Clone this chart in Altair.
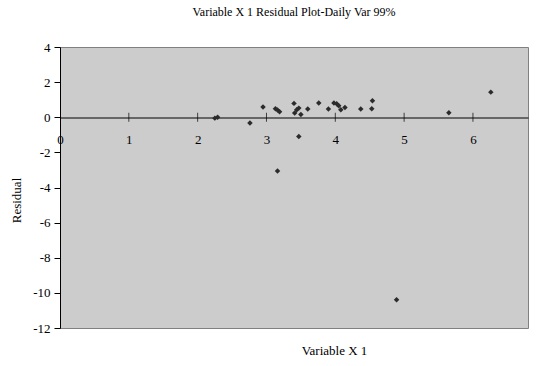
import altair as alt
import pandas as pd

x_vals = [2.25, 2.29, 2.76, 2.95, 3.13, 3.16, 3.19, 3.16, 3.40, 3.47, 3.44, 3.41, 3.50, 3.47,
          3.60, 3.76, 3.90, 3.98, 4.02, 4.05, 4.08, 4.14, 4.37, 4.53, 4.54, 4.89, 5.65, 6.26]
y_vals = [-0.05, 0.0, -0.33, 0.58, 0.48, 0.41, 0.31, -3.06, 0.79, 0.52, 0.43, 0.24, 0.16, -1.09,
          0.47, 0.81, 0.47, 0.81, 0.77, 0.65, 0.43, 0.56, 0.47, 0.48, 0.94, -10.39, 0.26, 1.43]
x_ticks = [1, 2, 3, 4, 5, 6]
y_ticks = [-12, -10, -8, -6, -4, -2, 0, 2, 4]

W, H = 468, 281
FONT = "Liberation Serif"

df = pd.DataFrame({"x": x_vals, "y": y_vals})
ticks_df = pd.DataFrame({"t": x_ticks, "z": [0] * len(x_ticks)})

xscale = alt.Scale(domain=[0, 6.8], nice=False, zero=False)
yscale = alt.Scale(domain=[-12, 4], nice=False)

xaxis = alt.Axis(values=[0] + x_ticks, offset=-210.5, tickSize=0, domainColor="black",
                 labelPadding=16, labelFlush=False, labelOverlap=False, grid=False,
                 labelExpr="toString(datum.value)", labelFont=FONT, labelFontSize=13,
                 labelColor="black",
                 title="Variable X 1", titleX=274, titleY=233, titleBaseline="middle",
                 titleAlign="center", titleFontWeight="normal", titleFontSize=13,
                 titleFont=FONT, titleColor="black")
yaxis = alt.Axis(values=y_ticks, tickSize=6, tickColor="black", domainColor="black",
                 labelPadding=4, grid=False, labelOverlap=False,
                 labelExpr="toString(datum.value)", labelFont=FONT, labelFontSize=13,
                 labelColor="black",
                 title="Residual", titleX=-44, titleY=153,
                 titleBaseline="middle", titleAlign="center", titleAngle=-90,
                 titleFontWeight="normal", titleFontSize=13, titleFont=FONT,
                 titleColor="black")

points = alt.Chart(df).mark_point(filled=True, shape="diamond", size=30, color="#2b2b2b", opacity=1).encode(
    x=alt.X("x:Q", scale=xscale, axis=xaxis),
    y=alt.Y("y:Q", scale=yscale, axis=yaxis),
)

cross = alt.Chart(ticks_df).mark_tick(orient="vertical", size=9, thickness=1, color="black").encode(
    x=alt.X("t:Q", scale=xscale, axis=xaxis),
    y=alt.Y("z:Q", scale=yscale, axis=yaxis),
)

chart = alt.layer(points, cross).properties(
    width=W, height=H,
    autosize=alt.AutoSizeParams(type="none"),
    padding={"left": 60, "top": 47, "right": 32, "bottom": 38},
    title=alt.TitleParams("Variable X 1 Residual Plot-Daily Var 99%", fontSize=12,
                          fontWeight="normal", font=FONT, anchor="middle", offset=22, color="black"),
).configure(font=FONT).configure_view(
    fill="#CCCCCC", stroke="#808080", strokeWidth=1
).configure_axis(
    domainWidth=1, tickWidth=1,
)

chart.save("out.html", embed_options={"renderer": "svg", "actions": False})
